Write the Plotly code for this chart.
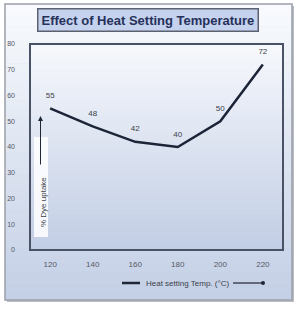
import plotly.graph_objects as go

categories = ["120", "140", "160", "180", "200", "220"]
dye_uptake = [55, 48, 42, 40, 50, 72]
y_ticks = [0, 10, 20, 30, 40, 50, 60, 70, 80]
title_text = "Effect of Heat Setting Temperature"
x_title = "Heat setting Temp. (°C)"
y_title = "% Dye uptake"

W, H = 297, 310
L, R, T, B = 30, 14, 44, 60
PW, PH = W - L - R, H - T - B
FONT = "Liberation Sans Narrow, Liberation Sans, Arial"

def px(x):
    return (x - L) / PW

def py(y):
    return (H - B - y) / PH

def mix(c1, c2, t):
    return "rgb(%d,%d,%d)" % tuple(round(a + (b - a) * t) for a, b in zip(c1, c2))

shapes = []
# outer frame shadow
shapes.append(dict(type="rect", xref="paper", yref="paper", layer="below",
                   x0=px(7), x1=px(294), y0=py(302), y1=py(6),
                   fillcolor="#b9bcc4", line_width=0))
# outer frame gradient
top_c, bot_c = (248, 250, 253), (196, 208, 230)
n = 40
y0p, y1p = 4, 300
for i in range(n):
    ya = y0p + (y1p - y0p) * i / n
    yb = y0p + (y1p - y0p) * (i + 1) / n + 0.6
    shapes.append(dict(type="rect", xref="paper", yref="paper", layer="below",
                       x0=px(5), x1=px(292), y0=py(yb), y1=py(ya),
                       fillcolor=mix(top_c, bot_c, i / (n - 1)), line_width=0))
# plot area gradient
ptop, pbot = (246, 248, 252), (194, 206, 229)
for i in range(n):
    ya = T + PH * i / n
    yb = T + PH * (i + 1) / n + 0.6
    shapes.append(dict(type="rect", xref="paper", yref="paper", layer="below",
                       x0=0, x1=1, y0=py(yb), y1=py(ya),
                       fillcolor=mix(ptop, pbot, i / (n - 1)), line_width=0))
# outer frame border
shapes.append(dict(type="rect", xref="paper", yref="paper", layer="below",
                   x0=px(5), x1=px(292), y0=py(300), y1=py(4),
                   line=dict(color="#9a9ea8", width=1.5), fillcolor="rgba(0,0,0,0)"))
# plot area border
shapes.append(dict(type="rect", xref="paper", yref="paper", layer="above",
                   x0=0, x1=1, y0=0, y1=1,
                   line=dict(color="#4a5266", width=2), fillcolor="rgba(0,0,0,0)"))
# y title white box
shapes.append(dict(type="rect", xref="paper", yref="paper", layer="above",
                   x0=px(34), x1=px(48), y0=py(237), y1=py(137),
                   fillcolor="rgba(255,255,255,0.85)", line_width=0))
# x title lines
shapes.append(dict(type="line", xref="paper", yref="paper",
                   x0=px(122), x1=px(140), y0=py(283), y1=py(283),
                   line=dict(color="#1f2636", width=2.5)))
shapes.append(dict(type="line", xref="paper", yref="paper",
                   x0=px(233), x1=px(263), y0=py(283), y1=py(283),
                   line=dict(color="#1f2636", width=1.2)))
shapes.append(dict(type="circle", xref="paper", yref="paper",
                   x0=px(261), x1=px(265), y0=py(285), y1=py(281),
                   fillcolor="#1f2636", line_width=0))

fig = go.Figure()
fig.add_trace(go.Scatter(
    x=categories, y=dye_uptake, mode="lines+markers+text",
    line=dict(color="#1c2438", width=2.5),
    marker=dict(size=12, color="rgba(0,0,0,0)"),
    text=[str(v) for v in dye_uptake], textposition="top center",
    textfont=dict(size=8, color="#3a3f4a", family=FONT),
    cliponaxis=False, hoverinfo="skip"))

annotations = [
    dict(text=title_text, xref="paper", yref="paper", x=px(147.5), y=py(20),
         xanchor="center", yanchor="middle", showarrow=False,
         font=dict(size=13, color="#26315a", family=FONT, weight="bold"),
         bgcolor="#c4d2ee", bordercolor="#5c6170", borderwidth=1.5, borderpad=3),
    dict(text=x_title, xref="paper", yref="paper", x=px(187), y=py(283),
         xanchor="center", yanchor="middle", showarrow=False,
         font=dict(size=8, color="#3a3f4a", family=FONT)),
    dict(text=y_title, xref="paper", yref="paper", x=px(43), y=py(202),
         xanchor="center", yanchor="middle", showarrow=False, textangle=-90,
         font=dict(size=8, color="#3a3f4a", family=FONT)),
    dict(text="", xref="paper", yref="paper", axref="pixel", ayref="pixel",
         x=px(40.5), y=py(116), ax=0, ay=50,
         showarrow=True, arrowhead=2, arrowsize=1, arrowwidth=1, arrowcolor="#1f2636"),
]

fig.update_layout(
    width=W, height=H, margin=dict(l=L, r=R, t=T, b=B, autoexpand=False),
    paper_bgcolor="white", plot_bgcolor="rgba(0,0,0,0)",
    showlegend=False, shapes=shapes, annotations=annotations,
    xaxis=dict(type="category", showgrid=False, zeroline=False, showline=False,
               ticks="", ticklabelstandoff=8, automargin=False,
               tickfont=dict(size=8, color="#555a66", family=FONT)),
    yaxis=dict(range=[0, 80], tickvals=y_ticks, showgrid=False, zeroline=False, showline=False,
               ticks="", ticklabelstandoff=14, automargin=False,
               tickfont=dict(size=7, color="#555a66", family=FONT)),
)

fig.write_html("out.html")
